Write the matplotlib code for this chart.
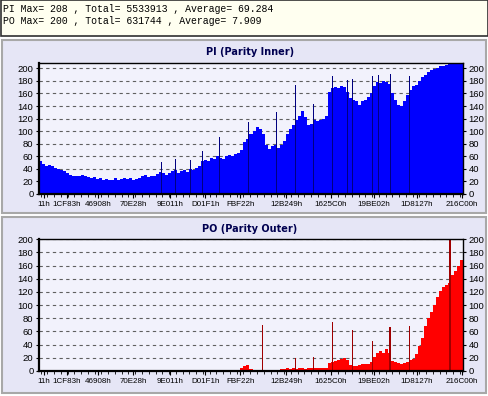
import numpy as np
import matplotlib.pyplot as plt
from matplotlib.patches import Rectangle
from matplotlib.ticker import MultipleLocator

# tick labels (hex addresses) and where they sit, in bar-index units
tick_labels = ["11h", "1CF83h", "46908h", "70E28h", "9E011h", "D01F1h", "FBF22h",
               "12B249h", "1625C0h", "19BE02h", "1D8127h", "216C00h"]
tick_pos = [1.2, 8.8, 19.2, 30.8, 43.2, 54.8, 66.5, 81.8, 96.5, 110.8, 125.2, 140.2]

# PI (Parity Inner) values, one bar per step
pi_vals = [52, 47, 45, 46, 44, 42, 40, 38, 36, 34, 31, 28, 29, 28, 30, 29, 27, 26, 27, 24,
           25, 23, 24, 22, 23, 25, 23, 24, 26, 24, 25, 23, 24, 26, 28, 30, 27, 29, 28, 32,
           35, 33, 31, 34, 36, 38, 33, 36, 38, 35, 40, 38, 41, 45, 52, 54, 52, 57, 55, 60,
           58, 56, 60, 62, 60, 63, 66, 70, 82, 88, 96, 100, 106, 104, 95, 78, 72, 76, 78, 74,
           78, 84, 96, 104, 110, 118, 124, 132, 122, 110, 112, 118, 116, 118, 120, 124, 162, 168, 170, 168,
           172, 170, 162, 152, 150, 148, 142, 148, 150, 155, 160, 172, 178, 176, 180, 178, 175, 160, 150, 142,
           140, 148, 158, 166, 172, 174, 180, 186, 190, 194, 197, 199, 201, 203, 204, 206, 207, 207, 208, 208,
           208]
pi_spike_pos = [40.2, 44.8, 49.8, 53.8, 59.5, 69.2, 78.5, 84.8, 90.8, 97.2, 102.2, 103.8,
                110.5, 112.5, 116.5, 122.8]
pi_spike_val = [51, 55, 54, 69, 91, 115, 130, 173, 143, 188, 182, 183, 188, 190, 191, 188]

# PO (Parity Outer) values
po_vals = [1, 1, 1, 2, 2, 2, 1, 1, 1, 1, 1, 1, 1, 1, 1, 1, 1, 1, 1, 1,
           1, 1, 1, 1, 1, 1, 1, 1, 1, 1, 1, 1, 1, 1, 1, 1, 1, 1, 1, 1,
           1, 1, 1, 1, 1, 2, 1, 1, 1, 1, 1, 1, 1, 1, 1, 1, 1, 1, 2, 2,
           1, 1, 1, 1, 1, 1, 2, 4, 8, 9, 3, 2, 2, 2, 2, 2, 2, 2, 2, 2,
           3, 3, 4, 3, 4, 3, 4, 4, 3, 4, 4, 4, 5, 4, 5, 5, 12, 13, 15, 16,
           18, 20, 17, 9, 8, 8, 9, 10, 10, 11, 14, 22, 28, 30, 27, 34, 28, 15, 14, 12,
           10, 12, 14, 16, 18, 26, 38, 50, 68, 80, 90, 100, 112, 122, 128, 130, 134, 146, 152, 160,
           168]
po_spike_pos = [73.8, 84.8, 90.8, 97.2, 103.8, 110.5, 116.2, 122.8, 136.2]
po_spike_val = [70, 19, 21, 74, 62, 45, 67, 68, 200]

header = ["PI Max= 208 , Total= 5533913 , Average= 69.284",
          "PO Max= 200 , Total= 631744 , Average= 7.909"]

W, H = 488, 396
fig = plt.figure(figsize=(W / 100, H / 100), dpi=100)
fig.patch.set_facecolor("#FFFFFF")

# header box and two panels (pixel coords -> figure fraction)
def box(x0, y0, x1, y1, fc, ec, lw=1):
    fig.patches.append(Rectangle((x0 / W, 1 - y1 / H), (x1 - x0) / W, (y1 - y0) / H,
                                 transform=fig.transFigure, facecolor=fc, edgecolor=ec,
                                 linewidth=lw, zorder=-10))

box(0.5, 0, 487.5, 35.5, "#FFFFF0", "#303030", 1.2)
box(2, 40, 486, 213, "#E6E6F6", "#A8A8A8", 1.5)
box(2, 217, 486, 393, "#E6E6F6", "#A8A8A8", 1.5)

for k, line in enumerate(header):
    fig.text(3 / W, 1 - (9 + 12 * k) / H, line, family="Liberation Mono", fontsize=7.1,
             va="center", ha="left", color="#000000")

panels = [
    dict(title="PI (Parity Inner)", vals=pi_vals, sp=pi_spike_pos, sv=pi_spike_val,
         color="#0000FF", dark="#000080", top=63.3, bot=194, ymax=208, ty=52),
    dict(title="PO (Parity Outer)", vals=po_vals, sp=po_spike_pos, sv=po_spike_val,
         color="#FF0000", dark="#A00000", top=239.3, bot=371, ymax=200, ty=229),
]

for p in panels:
    ax = fig.add_axes([39 / W, 1 - p["bot"] / H, 424 / W, (p["bot"] - p["top"]) / H])
    ax.set_facecolor("#F2F2FC")
    idx = np.arange(len(p["vals"]))
    ax.bar(idx, p["vals"], width=1.0, color=p["color"], linewidth=0)
    ax.bar(p["sp"], p["sv"], width=0.4, color=p["dark"], linewidth=0)
    ax.set_xlim(-0.5, len(p["vals"]) - 0.5)
    ax.set_ylim(0, p["ymax"])
    ax.set_yticks(range(0, 201, 20))
    ax.yaxis.grid(True, linestyle=(0, (3, 3)), color="#606060", linewidth=0.8)
    ax.set_axisbelow(True)
    ax.set_xticks(tick_pos)
    ax.set_xticklabels(tick_labels)
    ax.xaxis.set_minor_locator(MultipleLocator(2.25))
    ax.tick_params(axis="x", which="major", length=3, width=0.8, pad=2, labelsize=5.8)
    ax.tick_params(axis="x", which="minor", length=2, width=0.6)
    ax.tick_params(axis="y", length=2, pad=2, labelsize=6.8, left=True, right=True,
                   labelleft=True, labelright=True)
    for lab in ax.get_xticklabels() + ax.get_yticklabels():
        lab.set_family("Liberation Sans")
    for s in ax.spines.values():
        s.set_color("black")
        s.set_linewidth(1)
    ax.spines["left"].set_linewidth(1.6)
    ax.spines["bottom"].set_linewidth(1.6)
    fig.text(250 / W, 1 - p["ty"] / H, p["title"], ha="center", va="center",
             fontsize=7, fontweight="bold", color="#000050", family="DejaVu Sans")

fig.savefig("out.png", dpi=100, facecolor=fig.get_facecolor())
